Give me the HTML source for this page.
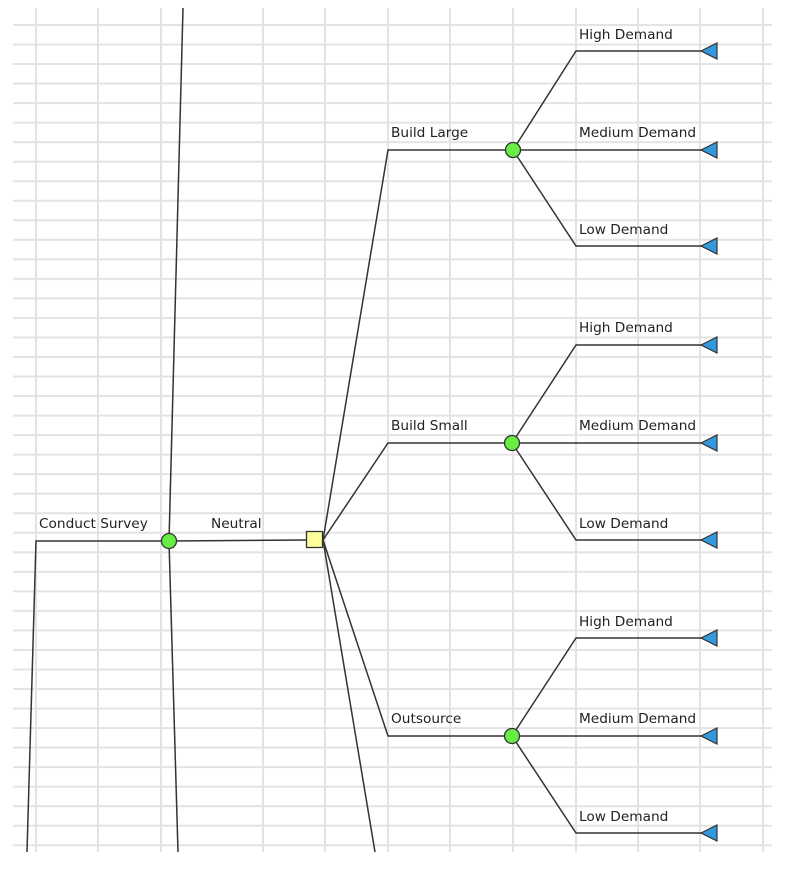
<!DOCTYPE html>
<html><head><meta charset="utf-8"><style>
html,body{margin:0;padding:0;background:#fff;width:788px;height:872px;overflow:hidden}
svg text{font-family:"DejaVu Sans","Liberation Sans",sans-serif;font-size:13.7px;fill:#222}
</style></head><body>
<svg width="788" height="872" viewBox="0 0 788 872" xmlns="http://www.w3.org/2000/svg">
<defs>
<pattern id="hp" x="0" y="24" width="788" height="19.53" patternUnits="userSpaceOnUse">
<rect x="0" y="0" width="788" height="2" fill="#e3e3e3"/>
</pattern>
</defs>
<rect x="13" y="23" width="759" height="829" fill="url(#hp)"/>
<g stroke="#e3e3e3" stroke-width="2">
<line x1="36" y1="8" x2="36" y2="852"/>
<line x1="98" y1="8" x2="98" y2="852"/>
<line x1="161" y1="8" x2="161" y2="852"/>
<line x1="263" y1="8" x2="263" y2="852"/>
<line x1="325" y1="8" x2="325" y2="852"/>
<line x1="388" y1="8" x2="388" y2="852"/>
<line x1="450" y1="8" x2="450" y2="852"/>
<line x1="513" y1="8" x2="513" y2="852"/>
<line x1="576" y1="8" x2="576" y2="852"/>
<line x1="638" y1="8" x2="638" y2="852"/>
<line x1="700" y1="8" x2="700" y2="852"/>
<line x1="763" y1="8" x2="763" y2="852"/>
</g>
<g stroke="#333" stroke-width="1.5" fill="none">
<polyline points="27,852 36,541 169,541"/>
<line x1="169" y1="541" x2="183" y2="8"/>
<line x1="169" y1="541" x2="178" y2="852"/>
<line x1="169" y1="541" x2="306" y2="540"/>
<polyline points="323,540 388,150 513,150"/>
<polyline points="323,540 388,443 512,443"/>
<polyline points="323,540 388,736 512,736"/>
<line x1="323" y1="540" x2="375" y2="852"/>
<polyline points="513,150 576,51 702,51"/>
<line x1="513" y1="150" x2="702" y2="150"/>
<polyline points="513,150 576,246 702,246"/>
<polyline points="512,443 576,345 702,345"/>
<line x1="512" y1="443" x2="702" y2="443"/>
<polyline points="512,443 576,540 702,540"/>
<polyline points="512,736 576,638 702,638"/>
<line x1="512" y1="736" x2="702" y2="736"/>
<polyline points="512,736 576,833 702,833"/>
</g>
<g fill="#66ee44" stroke="#333" stroke-width="1.3">
<circle cx="169" cy="541" r="7.5"/>
<circle cx="513" cy="150" r="7.5"/>
<circle cx="512" cy="443" r="7.5"/>
<circle cx="512" cy="736" r="7.5"/>
</g>
<rect x="306.5" y="531.5" width="16" height="16" fill="#ffff99" stroke="#333" stroke-width="1.3"/>
<g fill="#3399dd" stroke="#333" stroke-width="1.2">
<polygon points="701,51 717,43 717,59"/>
<polygon points="701,150 717,142 717,158"/>
<polygon points="701,246 717,238 717,254"/>
<polygon points="701,345 717,337 717,353"/>
<polygon points="701,443 717,435 717,451"/>
<polygon points="701,540 717,532 717,548"/>
<polygon points="701,638 717,630 717,646"/>
<polygon points="701,736 717,728 717,744"/>
<polygon points="701,833 717,825 717,841"/>
</g>
<text x="39" y="528">Conduct Survey</text>
<text x="211" y="528">Neutral</text>
<text x="391" y="137">Build Large</text>
<text x="391" y="430">Build Small</text>
<text x="391" y="723">Outsource</text>
<text x="579" y="39">High Demand</text>
<text x="579" y="137">Medium Demand</text>
<text x="579" y="234">Low Demand</text>
<text x="579" y="332">High Demand</text>
<text x="579" y="430">Medium Demand</text>
<text x="579" y="528">Low Demand</text>
<text x="579" y="626">High Demand</text>
<text x="579" y="723">Medium Demand</text>
<text x="579" y="821">Low Demand</text>
</svg>
</body></html>
